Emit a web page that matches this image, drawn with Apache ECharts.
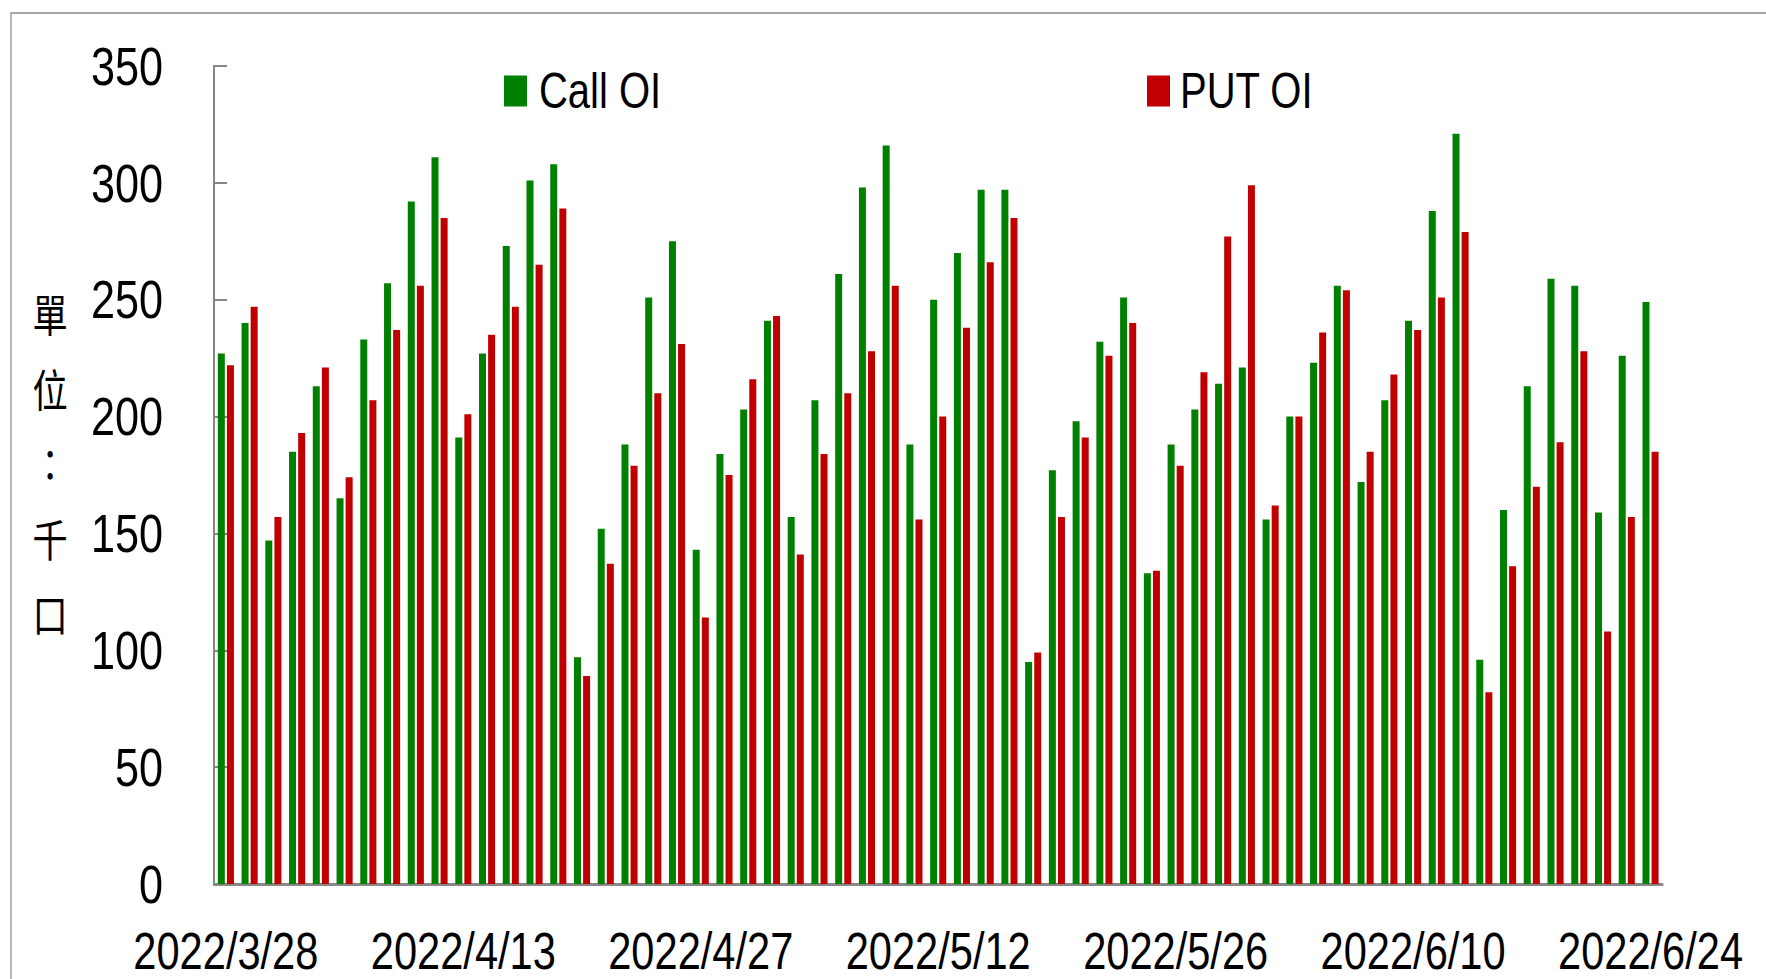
<!DOCTYPE html>
<html>
<head>
<meta charset="utf-8">
<script src="https://cdn.jsdelivr.net/npm/echarts@6/dist/echarts.min.js"></script>
<style>
  html, body { margin: 0; padding: 0; background: #ffffff; overflow: hidden; width: 1766px; height: 979px; }
  /* the reference chart's lettering is horizontally condensed; the whole drawing is laid out
     at 1/0.8 width and condensed to 1766px */
  #chart { position: absolute; left: 0; top: 0; width: 2208px; height: 979px;
           transform: scaleX(0.8); transform-origin: 0 0; }
</style>
</head>
<body>
<div id="chart"></div>
<script>
const categories = [
  '2022/3/28','2022/3/29','2022/3/30','2022/3/31','2022/4/1','2022/4/6','2022/4/7','2022/4/8','2022/4/11','2022/4/12',
  '2022/4/13','2022/4/14','2022/4/15','2022/4/18','2022/4/19','2022/4/20','2022/4/21','2022/4/22','2022/4/25','2022/4/26',
  '2022/4/27','2022/4/28','2022/4/29','2022/5/3','2022/5/4','2022/5/5','2022/5/6','2022/5/9','2022/5/10','2022/5/11',
  '2022/5/12','2022/5/13','2022/5/16','2022/5/17','2022/5/18','2022/5/19','2022/5/20','2022/5/23','2022/5/24','2022/5/25',
  '2022/5/26','2022/5/27','2022/5/30','2022/5/31','2022/6/1','2022/6/2','2022/6/6','2022/6/7','2022/6/8','2022/6/9',
  '2022/6/10','2022/6/13','2022/6/14','2022/6/15','2022/6/16','2022/6/17','2022/6/20','2022/6/21','2022/6/22','2022/6/23',
  '2022/6/24'
];
const callOI = [
  227, 240, 147, 185, 213, 165, 233, 257, 292, 311,
  191, 227, 273, 301, 308, 97, 152, 188, 251, 275,
  143, 184, 203, 241, 157, 207, 261, 298, 316, 188,
  250, 270, 297, 297, 95, 177, 198, 232, 251, 133,
  188, 203, 214, 221, 156, 200, 223, 256, 172, 207,
  241, 288, 321, 96, 160, 213, 259, 256, 159, 226,
  249
];
const putOI = [
  222, 247, 157, 193, 221, 174, 207, 237, 256, 285,
  201, 235, 247, 265, 289, 89, 137, 179, 210, 231,
  114, 175, 216, 243, 141, 184, 210, 228, 256, 156,
  200, 238, 266, 285, 99, 157, 191, 226, 240, 134,
  179, 219, 277, 299, 162, 200, 236, 254, 185, 218,
  237, 251, 279, 82, 136, 170, 189, 228, 108, 157,
  185
];
const yTicks = { min: 0, max: 350, interval: 50 };
const seriesNames = ['Call OI', 'PUT OI'];
const yTitleChars = ['單', '位', '：', '千', '口'];

const K = 0.8;                       // horizontal condensing factor (see CSS)
const X = v => v / K;                // screen px -> layout px, horizontal only
const FONT = "'Liberation Sans', Arial, sans-serif";
const AXIS_GRAY = '#878787';

const chart = echarts.init(document.getElementById('chart'), null, { renderer: 'svg' });
chart.setOption({
  animation: false,
  backgroundColor: '#ffffff',
  graphic: [{
    type: 'rect',
    shape: { x: X(11), y: 13, width: 4000, height: 2000 },
    style: { fill: 'none', stroke: '#a6a6a6', lineWidth: 2 },
    silent: true,
    z: -1
  }],
  legend: [{
    data: [seriesNames[0]],
    left: X(500), top: 51,
    itemWidth: X(23), itemHeight: 31,
    icon: 'rect',
    textStyle: { fontFamily: FONT, fontSize: 50, color: '#000', lineHeight: 56, padding: [0, 0, 14, X(12) - 5] }
  }, {
    data: [seriesNames[1]],
    left: X(1143), top: 51,
    itemWidth: X(23), itemHeight: 31,
    icon: 'rect',
    textStyle: { fontFamily: FONT, fontSize: 50, color: '#000', lineHeight: 56, padding: [0, 0, 14, X(10) - 5] }
  }],
  grid: { left: X(214), right: X(104), top: 66, bottom: 95, containLabel: false },
  xAxis: {
    type: 'category',
    data: categories,
    boundaryGap: true,
    axisLine: { lineStyle: { color: AXIS_GRAY, width: 3 } },
    axisTick: { show: false },
    axisLabel: {
      interval: 9,
      margin: 41,
      fontFamily: FONT,
      fontSize: 52,
      lineHeight: 52,
      color: '#000'
    }
  },
  yAxis: {
    type: 'value',
    min: yTicks.min, max: yTicks.max, interval: yTicks.interval,
    name: '{c|' + yTitleChars.join('\n') + '}\n{p| }',
    nameLocation: 'middle',
    nameRotate: 0,
    nameGap: X(164),
    nameTextStyle: {
      align: 'center',
      verticalAlign: 'middle',
      rich: {
        c: {
          fontFamily: "'Noto Sans CJK TC', sans-serif",
          fontSize: 44,
          lineHeight: 75,
          color: '#000',
          align: 'center'
        },
        p: { fontSize: 10, lineHeight: 24, height: 24 }
      }
    },
    axisLine: { show: true, lineStyle: { color: AXIS_GRAY, width: 2.5 } },
    axisTick: { show: true, inside: true, length: X(13), lineStyle: { color: AXIS_GRAY, width: 2 } },
    splitLine: { show: false },
    axisLabel: {
      margin: X(51),
      fontFamily: FONT,
      fontSize: 54,
      color: '#000'
    }
  },
  series: [{
    name: seriesNames[0],
    type: 'bar',
    data: callOI,
    barWidth: X(7),
    barGap: '30%',
    itemStyle: { color: '#008000' }
  }, {
    name: seriesNames[1],
    type: 'bar',
    data: putOI,
    barWidth: X(7),
    itemStyle: { color: '#c00000' }
  }]
});
</script>
</body>
</html>
